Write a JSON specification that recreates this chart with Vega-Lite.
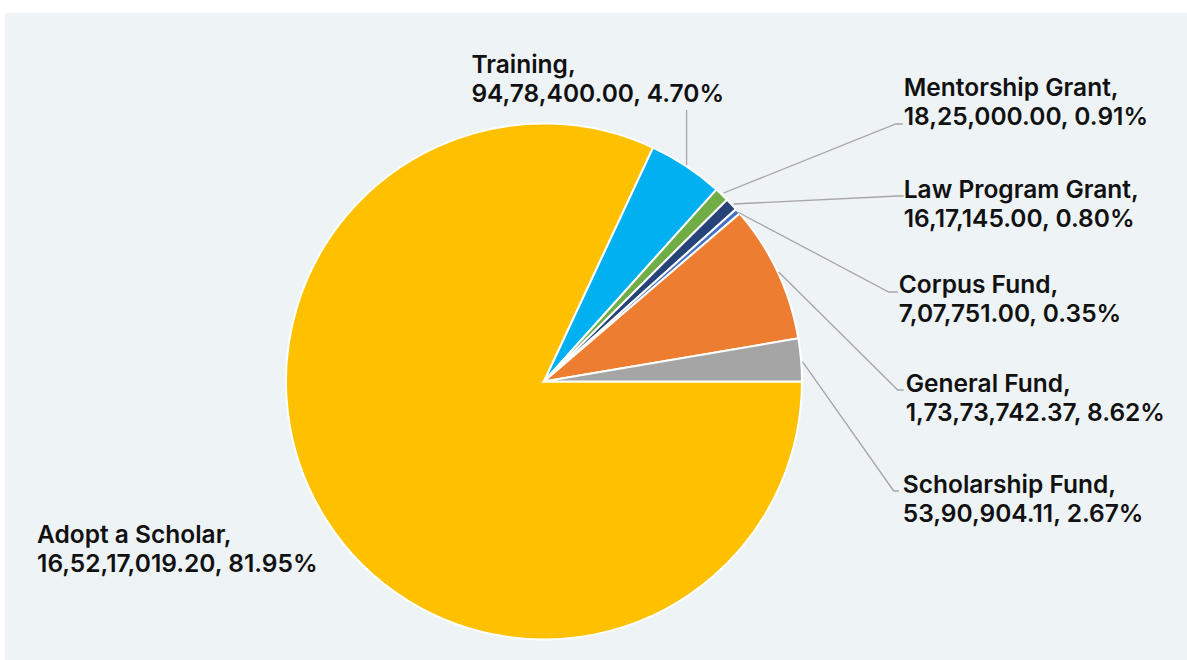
{
  "$schema": "https://vega.github.io/schema/vega-lite/v6.json",
  "width": 1187,
  "height": 660,
  "autosize": {"type": "fit", "contains": "padding"},
  "padding": {"left": 5, "top": 13, "right": 0, "bottom": 0},
  "background": "#ffffff",
  "config": {"view": {"fill": "#EEF3F6", "stroke": null}},
  "datasets": {
    "slices": [
      {"idx": 0, "name": "Adopt a Scholar", "value": 165217019.20},
      {"idx": 1, "name": "Training", "value": 9478400.00},
      {"idx": 2, "name": "Mentorship Grant", "value": 1825000.00},
      {"idx": 3, "name": "Law Program Grant", "value": 1617145.00},
      {"idx": 4, "name": "Corpus Fund", "value": 707751.00},
      {"idx": 5, "name": "General Fund", "value": 17373742.37},
      {"idx": 6, "name": "Scholarship Fund", "value": 5390904.11}
    ],
    "leaders": [
      {"name": "Training", "k": 0, "x": 0.5523, "y": 0.8391},
      {"name": "Training", "k": 1, "x": 0.5523, "y": 1.0523},
      {"name": "Mentorship Grant", "k": 0, "x": 0.6957, "y": 0.7306},
      {"name": "Mentorship Grant", "k": 1, "x": 1.3624, "y": 0.9981},
      {"name": "Mentorship Grant", "k": 2, "x": 1.3895, "y": 0.9981},
      {"name": "Law Program Grant", "k": 0, "x": 0.7345, "y": 0.6880},
      {"name": "Law Program Grant", "k": 1, "x": 1.3702, "y": 0.7190},
      {"name": "Law Program Grant", "k": 2, "x": 1.3934, "y": 0.7190},
      {"name": "Corpus Fund", "k": 0, "x": 0.7500, "y": 0.6570},
      {"name": "Corpus Fund", "k": 1, "x": 1.3353, "y": 0.3469},
      {"name": "Corpus Fund", "k": 2, "x": 1.3702, "y": 0.3469},
      {"name": "General Fund", "k": 0, "x": 0.9089, "y": 0.4244},
      {"name": "General Fund", "k": 1, "x": 1.3702, "y": -0.0329},
      {"name": "General Fund", "k": 2, "x": 1.3934, "y": -0.0329},
      {"name": "Scholarship Fund", "k": 0, "x": 1.0019, "y": 0.0756},
      {"name": "Scholarship Fund", "k": 1, "x": 1.3547, "y": -0.4244},
      {"name": "Scholarship Fund", "k": 2, "x": 1.3740, "y": -0.4244}
    ],
    "labels": [
      {"name": "Training", "label": "Training,\n94,78,400.00, 4.70%", "x": -0.2810, "y": 1.1938},
      {"name": "Mentorship Grant", "label": "Mentorship Grant,\n18,25,000.00, 0.91%", "x": 1.3934, "y": 1.1047},
      {"name": "Law Program Grant", "label": "Law Program Grant,\n16,17,145.00, 0.80%", "x": 1.3934, "y": 0.7093},
      {"name": "Corpus Fund", "label": "Corpus Fund,\n7,07,751.00, 0.35%", "x": 1.3740, "y": 0.3411},
      {"name": "General Fund", "label": "General Fund,\n1,73,73,742.37, 8.62%", "x": 1.4011, "y": -0.0388},
      {"name": "Scholarship Fund", "label": "Scholarship Fund,\n53,90,904.11, 2.67%", "x": 1.3895, "y": -0.4341},
      {"name": "Adopt a Scholar", "label": "Adopt a Scholar,\n16,52,17,019.20, 81.95%", "x": -1.9632, "y": -0.6279}
    ]
  },
  "layer": [
    {
      "data": {"name": "slices"},
      "mark": {"type": "arc", "outerRadius": 258, "stroke": "#ffffff", "strokeWidth": 2},
      "encoding": {
        "x": {"datum": 0, "type": "quantitative", "scale": {"domain": [-2.0872, 2.4903], "nice": false, "zero": false}, "axis": null},
        "y": {"datum": 0, "type": "quantitative", "scale": {"domain": [-1.0795, 1.4283], "nice": false, "zero": false}, "axis": null},
        "theta": {"field": "value", "type": "quantitative", "stack": true, "scale": {"range": [1.5707963, 7.8539816]}},
        "order": {"field": "idx", "type": "quantitative"},
        "color": {
          "field": "name", "type": "nominal", "legend": null,
          "scale": {
            "domain": ["Adopt a Scholar", "Training", "Mentorship Grant", "Law Program Grant", "Corpus Fund", "General Fund", "Scholarship Fund"],
            "range": ["#FFC000", "#00B0F0", "#70AD47", "#264478", "#4472C4", "#ED7D31", "#A5A5A5"]
          }
        }
      }
    },
    {
      "data": {"name": "leaders"},
      "mark": {"type": "line", "stroke": "#A6A6A6", "strokeWidth": 1.3, "interpolate": "linear"},
      "encoding": {
        "x": {"field": "x", "type": "quantitative", "scale": {"domain": [-2.0872, 2.4903], "nice": false, "zero": false}, "axis": null},
        "y": {"field": "y", "type": "quantitative", "scale": {"domain": [-1.0795, 1.4283], "nice": false, "zero": false}, "axis": null},
        "detail": {"field": "name", "type": "nominal"},
        "order": {"field": "k", "type": "quantitative"}
      }
    },
    {
      "data": {"name": "labels"},
      "mark": {"type": "text", "align": "left", "baseline": "alphabetic", "lineBreak": "\n", "lineHeight": 29, "font": "Inter", "fontSize": 24.5, "fontWeight": 600, "color": "#111111"},
      "encoding": {
        "x": {"field": "x", "type": "quantitative", "scale": {"domain": [-2.0872, 2.4903], "nice": false, "zero": false}, "axis": null},
        "y": {"field": "y", "type": "quantitative", "scale": {"domain": [-1.0795, 1.4283], "nice": false, "zero": false}, "axis": null},
        "text": {"field": "label", "type": "nominal"}
      }
    }
  ]
}
